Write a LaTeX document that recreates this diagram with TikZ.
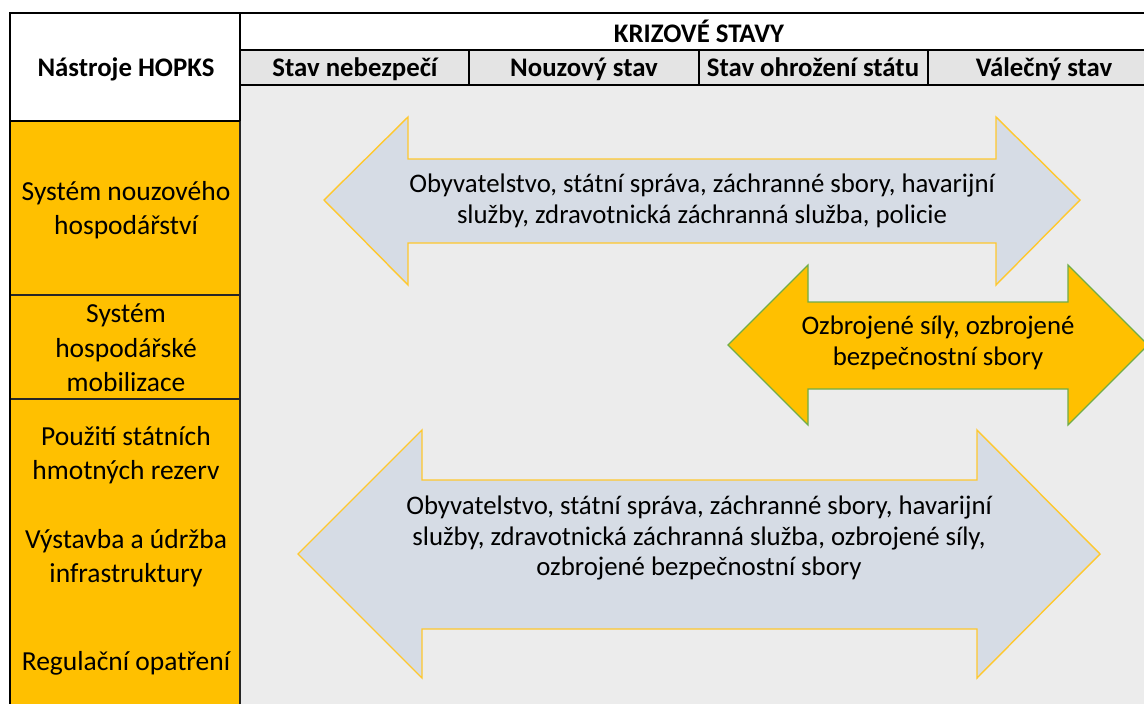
\documentclass[tikz,border=0pt]{standalone}
\usepackage{fontspec}
\setmainfont{Carlito}
\definecolor{hopkorange}{HTML}{FFC000}
\definecolor{bggray}{HTML}{ECECEC}
\definecolor{headgray}{HTML}{E4E4E4}
\definecolor{arrowfill}{HTML}{D6DCE5}
\definecolor{arrowline}{HTML}{FFC82E}
\definecolor{greenline}{HTML}{70AD47}
\begin{document}
\begin{tikzpicture}[x=1pt,y=-1pt,
  gridline/.style={draw=black,line width=2.4pt},
  thinline/.style={draw=black!85,line width=1.2pt},
  headtext/.style={font=\fontsize{26.8}{30}\selectfont\bfseries,inner sep=0pt,anchor=base},
  coltext/.style={font=\fontsize{27.5}{34.5}\selectfont,align=center,inner sep=0pt},
  arrtext/.style={font=\fontsize{26.8}{30.5}\selectfont,align=center,inner sep=0pt},
  grayarrow/.style={fill=arrowfill,draw=arrowline,line width=1.4pt,line join=miter},
  orangearrow/.style={fill=hopkorange,draw=greenline,line width=1.1pt,line join=miter}]
\useasboundingbox (0,0) rectangle (1144,704);
\begin{scope}
\clip (0,0) rectangle (1144,704);
\fill[white] (0,0) rectangle (1144,704);
% backgrounds
\fill[bggray] (240,85) rectangle (1150,710);
\fill[headgray] (240,50) rectangle (1150,85);
\fill[hopkorange] (10,121) rectangle (240,710);
% table lines
\draw[thinline] (10,295) -- (240,295);
\draw[thinline] (10,399) -- (240,399);
\draw[thinline] (240,121) -- (240,710);
\draw[gridline] (10,13) -- (1150,13);
\draw[gridline] (10,12) -- (10,710);
\draw[gridline] (240,13) -- (240,121);
\draw[gridline] (10,121) -- (240,121);
\draw[gridline] (240,50) -- (1150,50);
\draw[gridline] (240,85) -- (1150,85);
\draw[gridline] (469,50) -- (469,85);
\draw[gridline] (699,50) -- (699,85);
\draw[gridline] (928,50) -- (928,85);
% header texts
\node[headtext] (hopks) at (126,76) {Nástroje HOPKS};
\node[headtext] (krize) at (699,42) {KRIZOVÉ STAVY};
\node[headtext] (s1) at (355,76) {Stav nebezpečí};
\node[headtext] (s2) at (584,76) {Nouzový stav};
\node[headtext] (s3) at (813,76) {Stav ohrožení státu};
\node[headtext] (s4) at (1044,76) {Válečný stav};
% left column texts
\node[coltext] (c1) at (126,210) {Systém nouzového\\hospodářství};
\node[coltext] (c2) at (126,348) {Systém\\hospodářské\\mobilizace};
\node[coltext] (c3) at (126,455) {Použití státních\\hmotných rezerv};
\node[coltext] (c4) at (126,558) {Výstavba a údržba\\infrastruktury};
\node[coltext] (c5) at (126,663) {Regulační opatření};
% arrow 1
\draw[grayarrow] (324,200) -- (408,117) -- (408,159) -- (996,159) -- (996,117)
  -- (1080,200) -- (996,285) -- (996,243) -- (408,243) -- (408,285) -- cycle;
\node[arrtext] (a1) at (702,201) {Obyvatelstvo, státní správa, záchranné sbory, havarijní\\služby, zdravotnická záchranná služba, policie};
% arrow 2
\draw[orangearrow] (728,345) -- (808,265) -- (808,302) -- (1068,302) -- (1068,265)
  -- (1148,345) -- (1068,425) -- (1068,389) -- (808,389) -- (808,425) -- cycle;
\node[arrtext] (a2) at (938,343) {Ozbrojené síly, ozbrojené\\bezpečnostní sbory};
% arrow 3
\draw[grayarrow] (298,554) -- (422,430) -- (422,480) -- (977,480) -- (977,430)
  -- (1100,554) -- (977,678) -- (977,629) -- (422,629) -- (422,678) -- cycle;
\node[arrtext] (a3) at (699,538) {Obyvatelstvo, státní správa, záchranné sbory, havarijní\\služby, zdravotnická záchranná služba, ozbrojené síly,\\ozbrojené bezpečnostní sbory};
\end{scope}
\end{tikzpicture}
\end{document}
